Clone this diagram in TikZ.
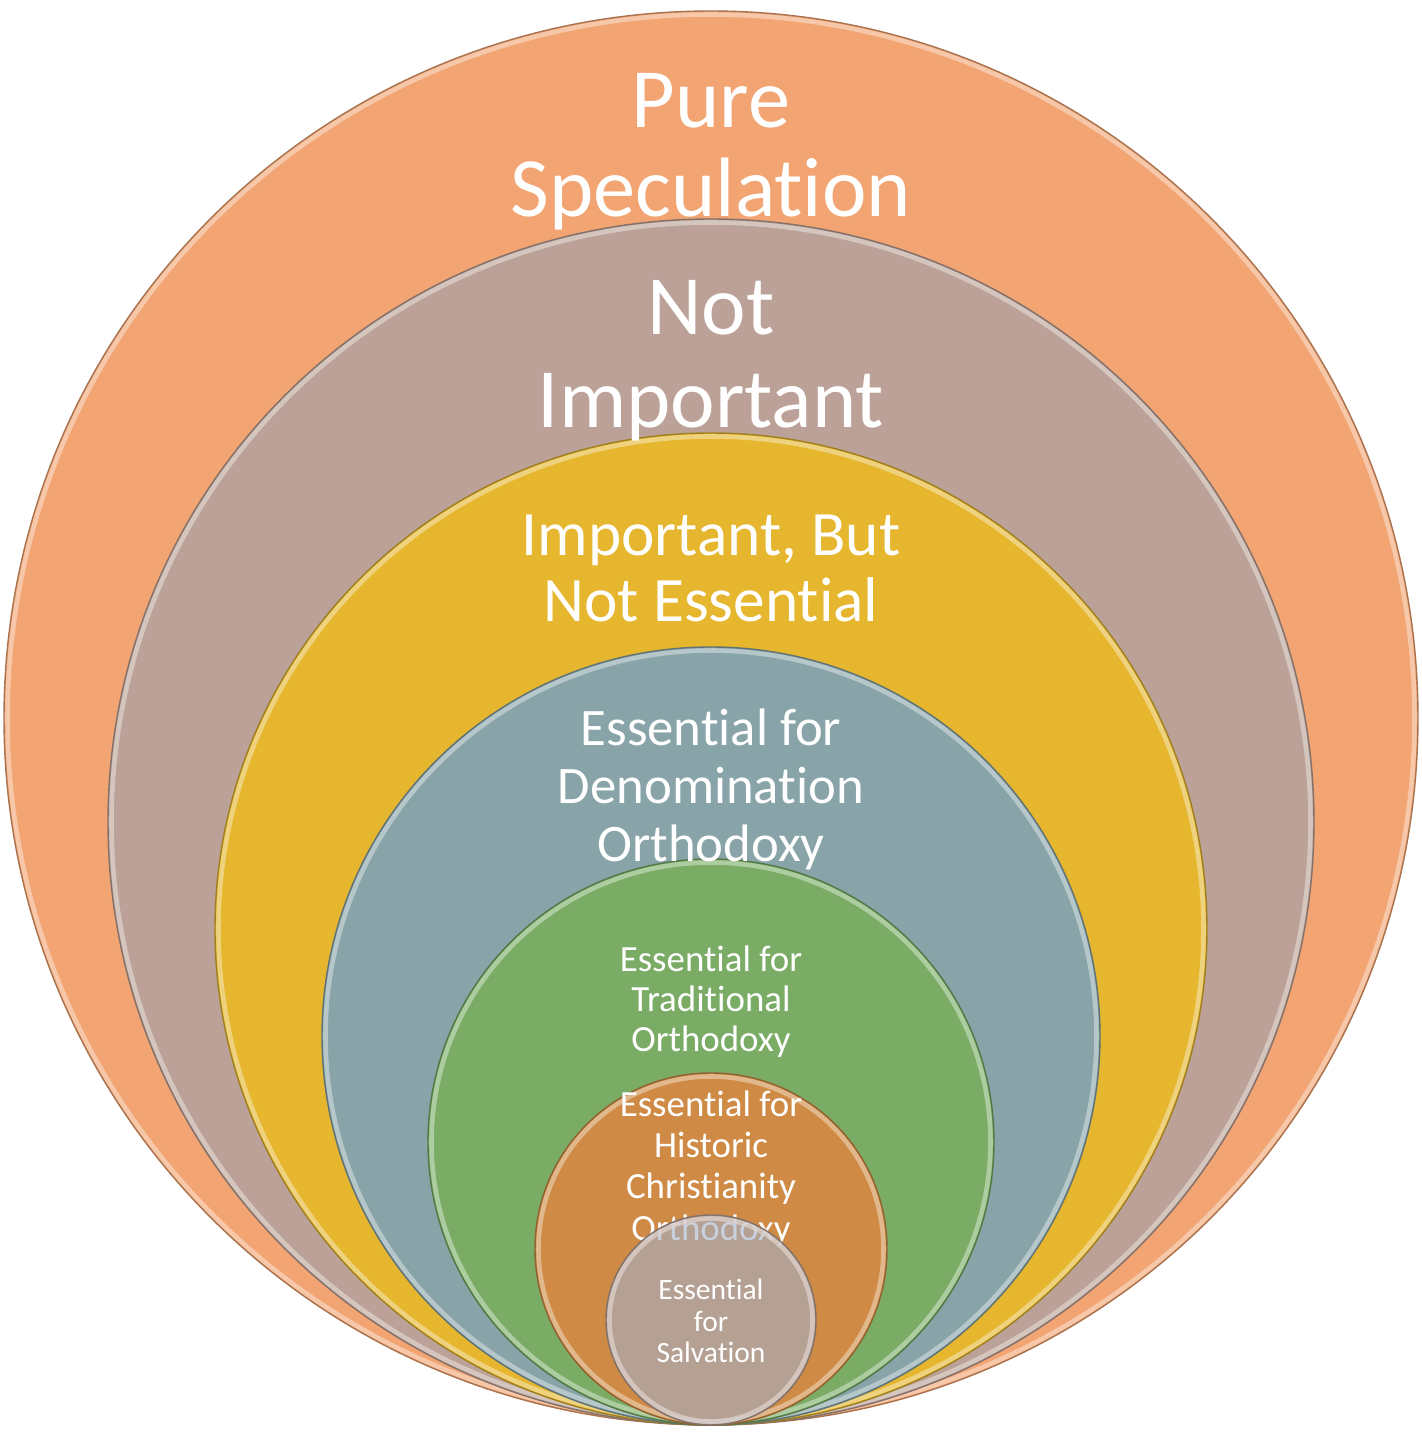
\documentclass[tikz,border=0pt]{standalone}
\usepackage{fontspec}
\setmainfont{Carlito}[Ligatures=CommonOff]
\usetikzlibrary{calc}
\definecolor{specorange}{HTML}{F2A472}
\definecolor{notimp}{HTML}{BBA197}
\definecolor{impyellow}{HTML}{E5B62E}
\definecolor{denomblue}{HTML}{88A4A8}
\definecolor{tradgreen}{HTML}{7AAC66}
\definecolor{historange}{HTML}{CF8B45}
\definecolor{salvtaupe}{HTML}{A5B1C7}

\begin{document}
\begin{tikzpicture}[x=0.1mm,y=0.1mm,
	disc/.style={fill=#1, draw=#1!70!black, line width=0.4pt},
	rim/.style={draw=#1!45!white, line width=1.3pt, opacity=0.7},
	lbl/.style={text=white, align=center, anchor=base, inner sep=0pt}]
	\useasboundingbox (0,0) rectangle (1422,1432);
	\coordinate (B) at (711,7);
	% the circles, all touching at (B)
	\filldraw[disc=specorange] ($(B)+(0,707)$) circle[radius=70.7mm];
	\draw[rim=specorange] ($(B)+(0,707)$) circle[radius=70.35mm];
	\filldraw[disc=notimp] ($(B)+(0,603)$) circle[radius=60.3mm];
	\draw[rim=notimp] ($(B)+(0,603)$) circle[radius=59.95mm];
	\filldraw[disc=impyellow] ($(B)+(0,496)$) circle[radius=49.6mm];
	\draw[rim=impyellow] ($(B)+(0,496)$) circle[radius=49.25mm];
	\filldraw[disc=denomblue] ($(B)+(0,389)$) circle[radius=38.9mm];
	\draw[rim=denomblue] ($(B)+(0,389)$) circle[radius=38.55mm];
	\filldraw[disc=tradgreen] ($(B)+(0,283)$) circle[radius=28.3mm];
	\draw[rim=tradgreen] ($(B)+(0,283)$) circle[radius=27.95mm];
	\filldraw[disc=historange] ($(B)+(0,176)$) circle[radius=17.6mm];
	\draw[rim=historange] ($(B)+(0,176)$) circle[radius=17.25mm];
	% labels
	\node[lbl, font=\fontsize{24}{25.6}\selectfont] (spec) at (711,1215) {Pure\\Speculation};
	\node[lbl, font=\fontsize{24}{26.5}\selectfont] (notimportant) at (711,1004) {Not\\Important};
	\node[lbl, font=\fontsize{18}{19}\selectfont] (important) at (711,810) {Important, But\\Not Essential};
	\node[lbl, font=\fontsize{15}{16.6}\selectfont] (denom) at (711,570) {Essential for\\Denomination\\Orthodoxy};
	\node[lbl, font=\fontsize{10.5}{11.4}\selectfont] (trad) at (711,380) {Essential for\\Traditional\\Orthodoxy};
	\node[lbl, font=\fontsize{10.5}{11.7}\selectfont] (hist) at (711,192) {Essential for\\Historic\\Christianity\\Orthodoxy};
	% innermost circle lies over the text above it
	\filldraw[disc=salvtaupe, draw=notimp!70!black, fill opacity=0.6] ($(B)+(0,105)$) circle[radius=10.5mm];
	\draw[rim=notimp] ($(B)+(0,105)$) circle[radius=10.15mm];
	\node[lbl, font=\fontsize{8.4}{9.1}\selectfont] (salv) at (711,69) {Essential\\for\\Salvation};
\end{tikzpicture}
\end{document}
